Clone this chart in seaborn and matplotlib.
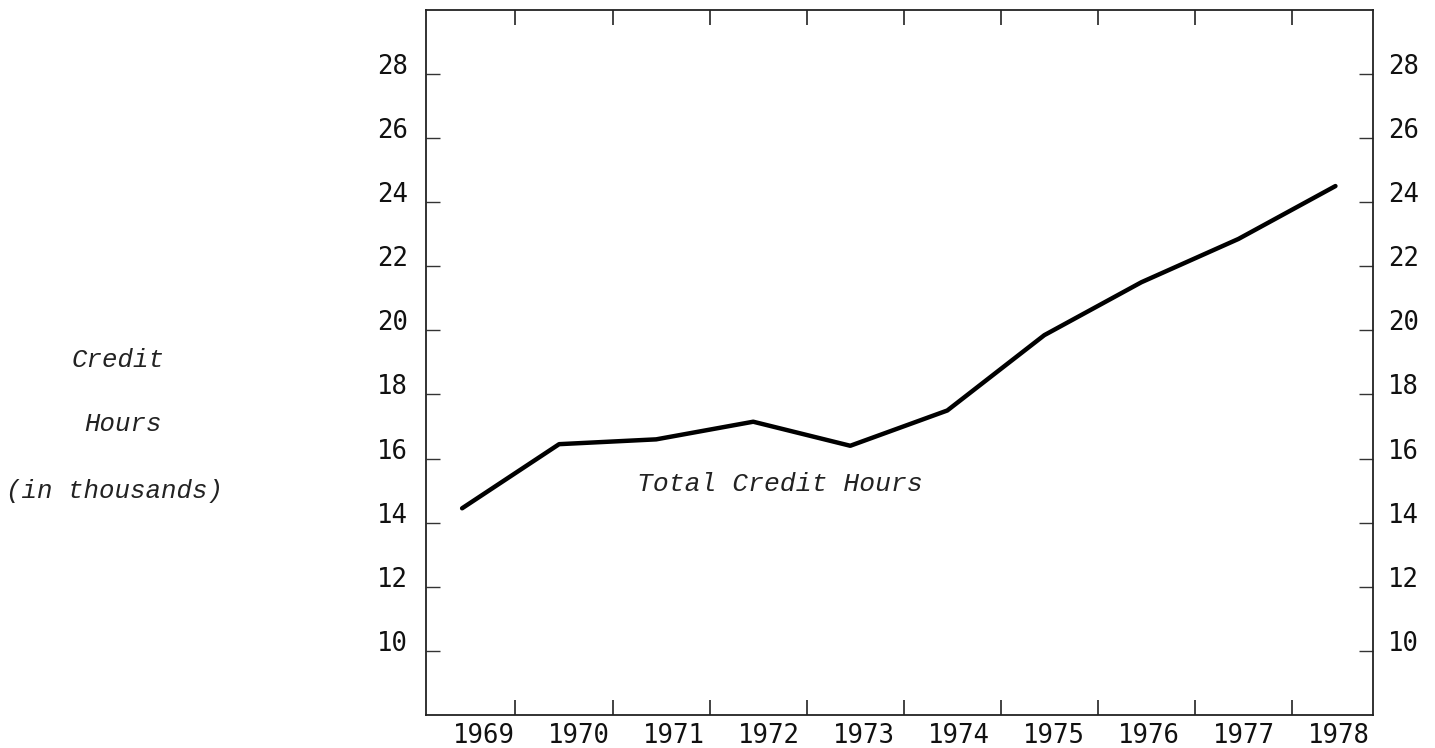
import numpy as np
import pandas as pd
import matplotlib
matplotlib.use("Agg")
import matplotlib.pyplot as plt
import matplotlib.transforms as mtransforms
import seaborn as sns

# values (thousands of credit hours)
years = ["1969", "1970", "1971", "1972", "1973", "1974", "1975", "1976", "1977", "1978"]
credit_hours = [14.45, 16.45, 16.6, 17.15, 16.4, 17.5, 19.85, 21.5, 22.85, 24.5]
y_ticks = [10, 12, 14, 16, 18, 20, 22, 24, 26, 28]

df = pd.DataFrame({"pos": np.arange(len(years)), "hours": credit_hours})

sns.set_style("ticks")
plt.rcParams["font.family"] = ["DejaVu Sans Mono", "DejaVu Sans"]

fig = plt.figure(figsize=(14.35, 7.48), dpi=100)
ax = fig.add_axes([0.297, 0.044, 0.66, 0.943])

sns.lineplot(data=df, x="pos", y="hours", ax=ax, color="black", linewidth=3.2)

ax.set_xlim(-0.37, 9.39)
ax.set_ylim(8, 30)

# year boundaries carry the tick marks, labels sit under the points
ax.set_xticks(np.arange(len(years) - 1) + 0.55)
ax.set_xticklabels([])
ax.set_xticks(np.arange(len(years)) * 0.98 + 0.22, minor=True)
ax.set_xticklabels(years, minor=True, fontsize=18.5, color="#111111")
ax.tick_params(axis="x", which="minor", length=0, pad=6)
ax.tick_params(axis="x", which="major", direction="in", length=11, width=1.2,
               top=True, bottom=True, color="#222222")

ax.set_yticks(y_ticks)
ax.set_yticklabels([str(v) for v in y_ticks], fontsize=18.5, color="#111111")
ax.tick_params(axis="y", direction="in", length=10, width=1.0, color="#333333",
               left=True, right=True, labelleft=True, labelright=True)
ax.tick_params(axis="y", which="major", pad=13)

# labels sit a little above their marks
up_left = mtransforms.ScaledTranslation(0, 10 / 100, fig.dpi_scale_trans)
up_right = mtransforms.ScaledTranslation(-3 / 100, 10 / 100, fig.dpi_scale_trans)
for t in ax.yaxis.get_major_ticks():
    t.label1.set_transform(t.label1.get_transform() + up_left)
    t.label2.set_transform(t.label2.get_transform() + up_right)

for side in ["left", "right", "top", "bottom"]:
    ax.spines[side].set_visible(True)
    ax.spines[side].set_linewidth(1.3)
    ax.spines[side].set_color("#222222")

ax.set_xlabel("")
ax.set_ylabel("")

typewriter = dict(family=["Liberation Mono", "DejaVu Sans Mono"], style="italic",
                  color="#222222")
ax.text(1.8, 15.2, "Total Credit Hours", fontsize=19, va="center", ha="left",
        **typewriter)

fig.text(0.082, 0.519, "Credit", fontsize=18.5, ha="center", va="center", **typewriter)
fig.text(0.086, 0.433, "Hours", fontsize=18.5, ha="center", va="center", **typewriter)
fig.text(0.080, 0.344, "(in thousands)", fontsize=18.5, ha="center", va="center",
         **typewriter)

fig.savefig("out.png", dpi=100)
